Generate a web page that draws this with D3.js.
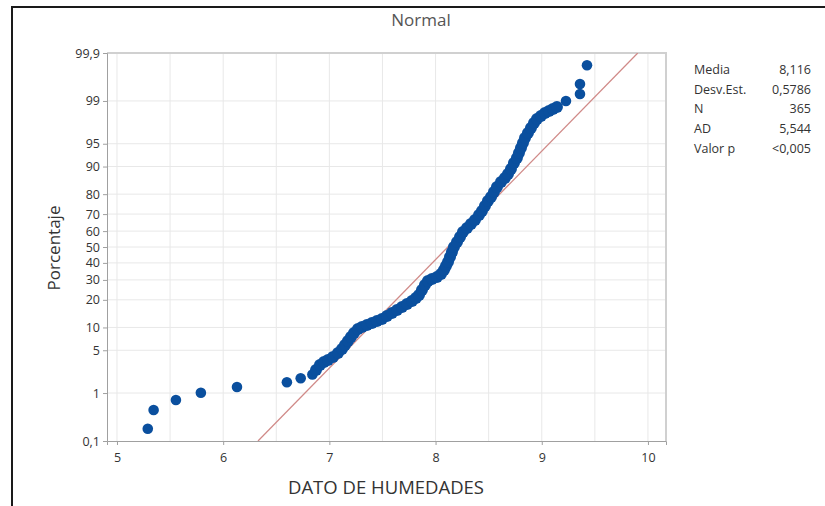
<!doctype html>
<html lang="es">
	<head>
		<meta charset="UTF-8" />
		<title>Gráfica de probabilidad - Normal</title>
		<script src="https://d3js.org/d3.v7.min.js"></script>
		<style>
			body {
				margin: 0;
				background: #fff;
			}
			svg text {
				font-family: 'Open Sans', 'Noto Sans', sans-serif;
			}
			.grid line {
				stroke: #e8e8e8;
				stroke-width: 1px;
			}
			.axis path,
			.axis line {
				stroke: #a0a0a0;
			}
			.axis text {
				fill: #333;
				font-size: 12.5px;
			}
			.fit {
				stroke: #d08a88;
				stroke-width: 1.3px;
				fill: none;
			}
			.pt {
				fill: #0a4f9e;
			}
		</style>
	</head>
	<body>
		<svg width="825" height="506"></svg>
		<script>
			// datos: valor (humedad) y porcentaje acumulado
			const valores = [
				5.29, 5.345, 5.555, 5.79, 6.13, 6.6, 6.73, 6.84,
				6.874, 6.911, 6.949, 6.987, 7.034, 7.081, 7.119, 7.147, 7.175, 7.203,
				7.232, 7.269, 7.307, 7.354, 7.401, 7.448, 7.495, 7.542, 7.589, 7.637,
				7.684, 7.731, 7.778, 7.815, 7.844, 7.872, 7.9, 7.928, 7.966, 8.013,
				8.051, 8.079, 8.098, 8.117, 8.136, 8.154, 8.173, 8.202, 8.23, 8.258,
				8.296, 8.333, 8.371, 8.409, 8.437, 8.465, 8.493, 8.522, 8.55, 8.578,
				8.616, 8.653, 8.682, 8.71, 8.738, 8.766, 8.785, 8.804, 8.823, 8.842,
				8.87, 8.898, 8.927, 8.955, 8.992, 9.03, 9.068, 9.105, 9.143,
				9.228, 9.36, 9.36, 9.426
			]
			const porcentajes = [
				0.19, 0.47, 0.74, 1.01, 1.29, 1.56, 1.83, 2.11,
				2.51, 3.01, 3.36, 3.6, 3.99, 4.57, 5.22, 5.93, 6.72, 7.59,
				8.55, 9.58, 10.13, 10.71, 11.31, 11.94, 12.59, 13.59, 14.66, 15.79,
				16.97, 18.2, 19.49, 20.84, 22.24, 24.67, 27.26, 29.42, 30.52, 31.64,
				33.36, 35.71, 38.1, 40.56, 43.68, 46.81, 50, 53.19, 56.32, 59.44,
				61.9, 64.29, 66.64, 69.48, 71.67, 74.31, 76.8, 78.7, 80.95, 83.03,
				84.97, 86.41, 87.74, 89.29, 90.95, 92.18, 93.28, 94.25, 95.11, 95.87,
				96.52, 97.1, 97.59, 97.92, 98.15, 98.36, 98.48, 98.6, 98.71,
				99.0, 99.26, 99.53, 99.81
			]
			const yTicks = [0.1, 1, 5, 10, 20, 30, 40, 50, 60, 70, 80, 90, 95, 99, 99.9]
			const xTicks = [5, 6, 7, 8, 9, 10]
			const xGrid = [5, 5.5, 6, 6.5, 7, 7.5, 8, 8.5, 9, 9.5, 10]
			const statNames = ['Media', 'Desv.Est.', 'N', 'AD', 'Valor p']
			const statValues = ['8,116', '0,5786', '365', '5,544', '<0,005']
			const media = 8.116
			const desv = 0.5786

			// cuantil normal (aproximación de Acklam)
			function probit(p) {
				const a = [-39.6968302866538, 220.946098424521, -275.928510446969, 138.357751867269, -30.6647980661472, 2.50662827745924]
				const b = [-54.4760987982241, 161.585836858041, -155.698979859887, 66.8013118877197, -13.2806815528857]
				const c = [-0.00778489400243029, -0.322396458041136, -2.40075827716184, -2.54973253934373, 4.37466414146497, 2.93816398269878]
				const d = [0.00778469570904146, 0.32246712907004, 2.445134137143, 3.75440866190742]
				const pl = 0.02425
				let q, r
				if (p < pl) {
					q = Math.sqrt(-2 * Math.log(p))
					return (((((c[0] * q + c[1]) * q + c[2]) * q + c[3]) * q + c[4]) * q + c[5]) / ((((d[0] * q + d[1]) * q + d[2]) * q + d[3]) * q + 1)
				}
				if (p > 1 - pl) {
					q = Math.sqrt(-2 * Math.log(1 - p))
					return -(((((c[0] * q + c[1]) * q + c[2]) * q + c[3]) * q + c[4]) * q + c[5]) / ((((d[0] * q + d[1]) * q + d[2]) * q + d[3]) * q + 1)
				}
				q = p - 0.5
				r = q * q
				return ((((((a[0] * r + a[1]) * r + a[2]) * r + a[3]) * r + a[4]) * r + a[5]) * q) / (((((b[0] * r + b[1]) * r + b[2]) * r + b[3]) * r + b[4]) * r + 1)
			}

			const svg = d3.select('svg')
			const pLeft = 107, pRight = 666, pTop = 53, pBottom = 441

			const x = d3.scaleLinear().domain([4.906, 10.17]).range([pLeft, pRight])
			const z = d3.scaleLinear().domain([probit(0.001), probit(0.999)]).range([pBottom, pTop])
			const y = (p) => z(probit(p / 100))

			// marco exterior
			svg.append('path')
				.attr('d', 'M12,506V7H825')
				.attr('fill', 'none')
				.attr('stroke', '#1a1a1a')
				.attr('stroke-width', 2)

			svg.append('text')
				.attr('x', 421)
				.attr('y', 26)
				.attr('text-anchor', 'middle')
				.attr('font-size', 17)
				.attr('fill', '#555')
				.text('Normal')

			// rejilla
			const grid = svg.append('g').attr('class', 'grid')
			grid.selectAll('line.v')
				.data(xGrid)
				.join('line')
				.attr('class', 'v')
				.attr('x1', (d) => x(d))
				.attr('x2', (d) => x(d))
				.attr('y1', pTop)
				.attr('y2', pBottom)
			grid.selectAll('line.h')
				.data(yTicks.slice(1, -1))
				.join('line')
				.attr('class', 'h')
				.attr('x1', pLeft)
				.attr('x2', pRight)
				.attr('y1', (d) => y(d))
				.attr('y2', (d) => y(d))

			// marco del área
			svg.append('path')
				.attr('d', `M${pLeft},${pTop}H${pRight}V${pBottom}`)
				.attr('fill', 'none')
				.attr('stroke', '#d0d0d0')
				.attr('stroke-width', 2)

			// ejes
			const fmt = (d) => String(d).replace('.', ',')
			const yAxis = d3
				.axisLeft(z)
				.tickValues(yTicks.map((p) => probit(p / 100)))
				.tickFormat((d, i) => fmt(yTicks[i]))
				.tickSize(4)
				.tickPadding(3)
			svg.append('g')
				.attr('class', 'axis')
				.attr('transform', `translate(${pLeft},0)`)
				.call(yAxis)

			const xAxis = d3.axisBottom(x).tickValues(xTicks).tickFormat(fmt).tickSize(4).tickPadding(8)
			svg.append('g')
				.attr('class', 'axis')
				.attr('transform', `translate(0,${pBottom})`)
				.call(xAxis)

			// recta ajustada
			svg.append('clipPath')
				.attr('id', 'area')
				.append('rect')
				.attr('x', pLeft)
				.attr('y', pTop)
				.attr('width', pRight - pLeft)
				.attr('height', pBottom - pTop)
			const fitPcts = [0.1, 99.9]
			svg.append('line')
				.attr('class', 'fit')
				.attr('clip-path', 'url(#area)')
				.attr('x1', x(media + desv * probit(fitPcts[0] / 100)))
				.attr('y1', y(fitPcts[0]))
				.attr('x2', x(media + desv * probit(fitPcts[1] / 100)))
				.attr('y2', y(fitPcts[1]))

			// puntos
			svg.append('g')
				.selectAll('circle')
				.data(valores)
				.join('circle')
				.attr('class', 'pt')
				.attr('cx', (d) => x(d))
				.attr('cy', (d, i) => y(porcentajes[i]))
				.attr('r', (d, i) => (i >= 8 && i < valores.length - 4 ? 6 : 5.3))

			// títulos de ejes
			svg.append('text')
				.attr('transform', 'translate(60,248) rotate(-90)')
				.attr('text-anchor', 'middle')
				.attr('font-size', 17)
				.attr('fill', '#333')
				.text('Porcentaje')

			svg.append('text')
				.attr('x', 386)
				.attr('y', 494)
				.attr('text-anchor', 'middle')
				.attr('font-size', 18.5)
				.attr('fill', '#333')
				.text('DATO DE HUMEDADES')

			// tabla de estadísticos
			const stats = svg.append('g').attr('font-size', 12.5).attr('fill', '#333')
			stats.selectAll('text.n')
				.data(statNames)
				.join('text')
				.attr('class', 'n')
				.attr('x', 694)
				.attr('y', (d, i) => 74 + i * 19.7)
				.text((d) => d)
			stats.selectAll('text.v')
				.data(statValues)
				.join('text')
				.attr('class', 'v')
				.attr('x', 811)
				.attr('y', (d, i) => 74 + i * 19.7)
				.attr('text-anchor', 'end')
				.text((d) => d)
		</script>
	</body>
</html>
